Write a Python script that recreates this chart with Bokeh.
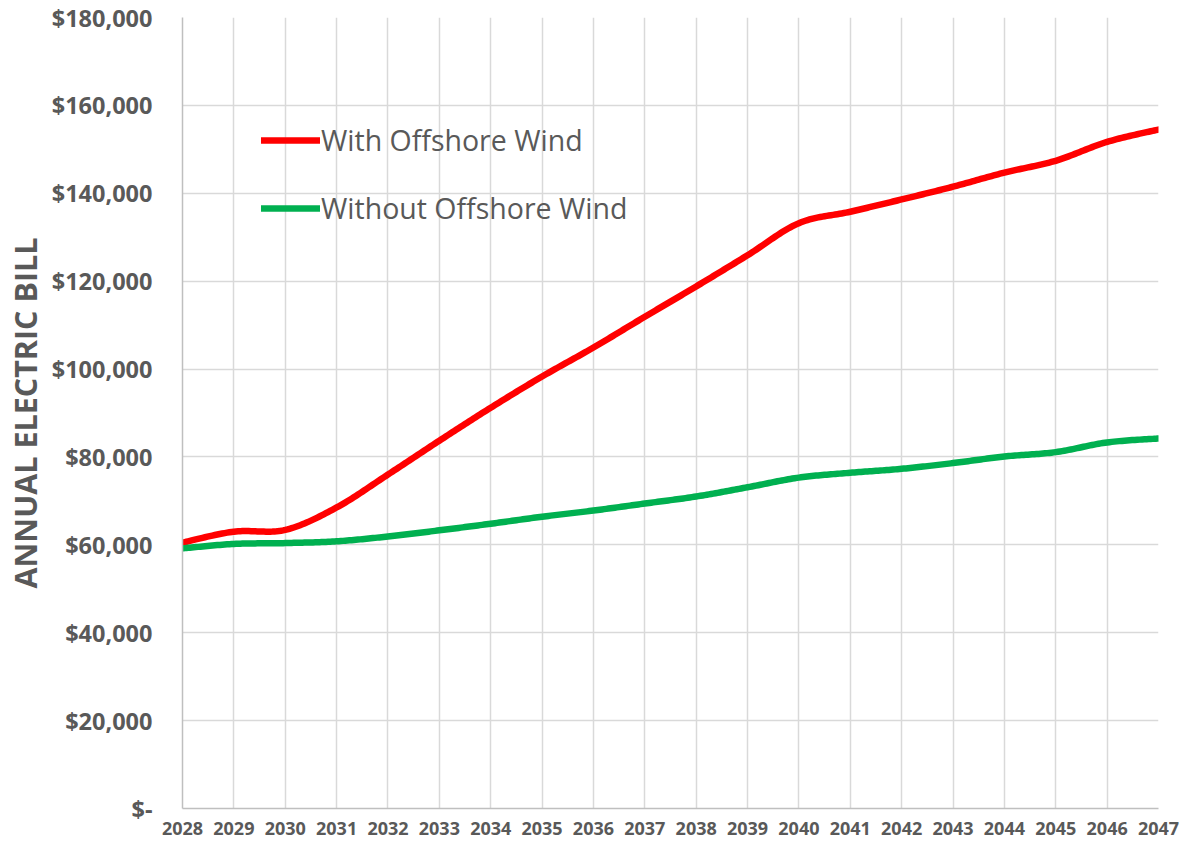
import numpy as np
from bokeh.plotting import figure
from bokeh.models import (FixedTicker, Legend, LegendItem, Range1d)
from bokeh.embed import file_html
from bokeh.resources import INLINE

years = list(range(2028, 2048))
with_wind = [60500, 63000, 63400, 68500, 76000, 83700, 91200, 98300, 104900, 111900,
             118800, 125900, 133200, 135800, 138600, 141500, 144700, 147400, 151700, 154500]
without_wind = [59200, 60200, 60400, 60800, 61900, 63300, 64800, 66400, 67800, 69400,
                71000, 73100, 75300, 76400, 77300, 78600, 80100, 81100, 83300, 84200]
y_ticks = [0, 20000, 40000, 60000, 80000, 100000, 120000, 140000, 160000, 180000]
y_tick_labels = ["$-", "$20,000", "$40,000", "$60,000", "$80,000", "$100,000",
                 "$120,000", "$140,000", "$160,000", "$180,000"]
series_names = ["With Offshore Wind", "Without Offshore Wind"]
series_colors = ["#ff0000", "#00b050"]


def smooth(xs, ys, n=24):
    # Excel-like smoothed line: cubic Bezier with Catmull-Rom control points
    xs = np.asarray(xs, float)
    ys = np.asarray(ys, float)
    px = np.concatenate([[xs[0]], xs, [xs[-1]]])
    py = np.concatenate([[ys[0]], ys, [ys[-1]]])
    ox, oy = [], []
    for i in range(len(xs) - 1):
        p0 = np.array([px[i], py[i]])
        p1 = np.array([px[i + 1], py[i + 1]])
        p2 = np.array([px[i + 2], py[i + 2]])
        p3 = np.array([px[i + 3], py[i + 3]])
        c1 = p1 + (p2 - p0) / 6.0
        c2 = p2 - (p3 - p1) / 6.0
        t = np.linspace(0, 1, n, endpoint=(i == len(xs) - 2))
        pts = ((1 - t) ** 3)[:, None] * p1 + (3 * (1 - t) ** 2 * t)[:, None] * c1 \
            + (3 * (1 - t) * t ** 2)[:, None] * c2 + (t ** 3)[:, None] * p2
        ox.extend(pts[:, 0])
        oy.extend(pts[:, 1])
    return ox, oy


TEXT = "#595959"
GRID = "#d9d9d9"

p = figure(width=1186, height=845, output_backend="svg", toolbar_location=None,
           x_range=Range1d(2028, 2047), y_range=Range1d(0, 180000),
           min_border_left=181, min_border_right=28, min_border_top=17, min_border_bottom=37)
p.outline_line_color = None
p.background_fill_color = "white"

renderers = []
for vals, col in zip([with_wind, without_wind], series_colors):
    sx, sy = smooth(years, vals)
    r = p.line(sx, sy, line_color=col, line_width=6.5, line_cap="round", line_join="round")
    renderers.append(r)

# axes
p.xaxis.ticker = FixedTicker(ticks=years)
p.yaxis.ticker = FixedTicker(ticks=y_ticks)
p.yaxis.major_label_overrides = {t: l for t, l in zip(y_ticks, y_tick_labels)}
p.xaxis.major_label_overrides = {y: str(y) for y in years}
for ax in (p.xaxis, p.yaxis):
    ax.axis_line_color = "#bfbfbf"
    ax.axis_line_width = 1.5
    ax.major_tick_line_color = None
    ax.minor_tick_line_color = None
    ax.major_tick_out = 0
    ax.major_tick_in = 0
    ax.minor_tick_out = 0
    ax.minor_tick_in = 0
    ax.major_label_text_color = TEXT
    ax.major_label_text_font = "Open Sans"
    ax.major_label_text_font_style = "bold"
p.yaxis.major_label_text_font_size = "23.5px"
p.xaxis.major_label_text_font_size = "18px"
p.yaxis.major_label_standoff = 30
p.xaxis.major_label_standoff = 13
p.yaxis.axis_label = "ANNUAL ELECTRIC BILL"
p.yaxis.axis_label_text_font = "Open Sans"
p.yaxis.axis_label_text_font_style = "bold"
p.yaxis.axis_label_text_font_size = "30.5px"
p.yaxis.axis_label_text_color = TEXT
p.yaxis.axis_label_standoff = 3

p.xgrid.ticker = FixedTicker(ticks=years)
p.ygrid.ticker = FixedTicker(ticks=y_ticks)
for g in (p.xgrid, p.ygrid):
    g.grid_line_color = GRID
    g.grid_line_width = 1.5

legend = Legend(items=[LegendItem(label=n, renderers=[r]) for n, r in zip(series_names, renderers)],
                location=(79, 581), orientation="vertical",
                glyph_width=59, glyph_height=34, label_height=34, spacing=30,
                label_standoff=1, padding=0, margin=0,
                label_text_font="Open Sans", label_text_font_size="28.5px",
                label_text_color=TEXT, border_line_color=None,
                background_fill_alpha=0)
p.add_layout(legend)

open("out.html", "w").write(file_html(p, INLINE))
